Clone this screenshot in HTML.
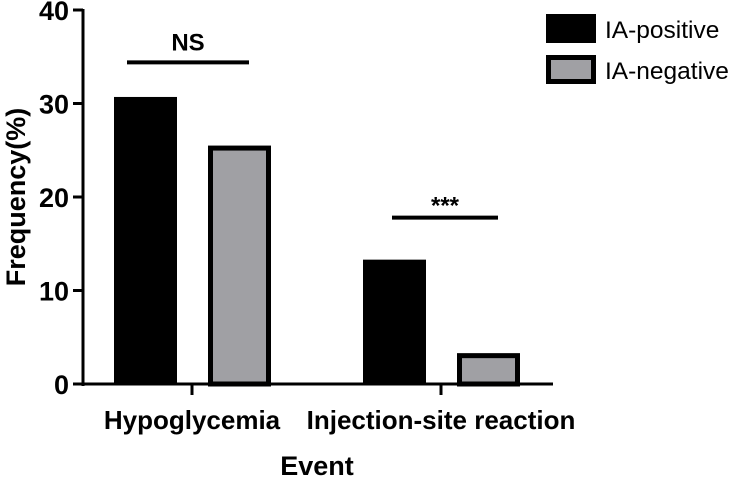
<!DOCTYPE html>
<html><head><meta charset="utf-8"><style>
body{margin:0;background:#fff}
svg{display:block;font-family:"Liberation Sans",Arial,sans-serif}
</style></head><body>
<svg id="c" width="738" height="477"></svg>
<script>
const categories=["Hypoglycemia","Injection-site reaction"];
const positiveValues=[30.7,13.3];
const negativeValues=[25.5,3.3];
const yTicks=[0,10,20,30,40];
const seriesNames=["IA-positive","IA-negative"];
const sigLabels=["NS","***"];
const sigLevels=[34.4,17.8];
const ns="http://www.w3.org/2000/svg";
const svg=document.getElementById('c');
function y(v){return 384-v*9.35;}
function cx(i){return 192+i*249;}
function mk(t,a,p){const e=document.createElementNS(ns,t);for(const k in a)e.setAttribute(k,a[k]);(p||svg).appendChild(e);return e;}
let e=mk('line',{x1:83,y1:y(40)-1,x2:83,y2:386,stroke:'#000','stroke-width':3});


e=mk('line',{x1:82,y1:384,x2:553,y2:384,stroke:'#000','stroke-width':3});


yTicks.forEach(t=>{
 let l=mk('line',{x1:73,y1:y(t),x2:83,y2:y(t),stroke:'#000','stroke-width':3});
 
 
 let tx=mk('text',{x:69,y:y(t)+10,'text-anchor':'end','font-size':27,'font-weight':'bold'});
 tx.textContent=t;
 
 
});
categories.forEach((c,i)=>{
 let l=mk('line',{x1:cx(i),y1:384,x2:cx(i),y2:395,stroke:'#000','stroke-width':3});
 
 
 let tx=mk('text',{x:cx(i),y:429,'text-anchor':'middle','font-size':26,'font-weight':'bold'});
 tx.textContent=c;
 
 
 let b=mk('rect',{x:cx(i)-78,y:y(positiveValues[i]),width:63,height:384-y(positiveValues[i]),fill:'#000'});
 
 
 let g=mk('rect',{x:cx(i)+18.5,y:y(negativeValues[i])+2.5,width:58,height:384-y(negativeValues[i])-2.5,fill:'#a0a0a4',stroke:'#000','stroke-width':5});
 
 
 let ly=y(sigLevels[i]);
 let x1=i==0?cx(i)-65:cx(i)-49, x2=cx(i)+57;
 let s=mk('line',{x1:x1,y1:ly,x2:x2,y2:ly,stroke:'#000','stroke-width':4});
 
 
 let st=mk('text',{x:(x1+x2)/2,y:ly-(i==0?12:4),'text-anchor':'middle','font-size':24,'font-weight':'bold'});
 st.textContent=sigLabels[i];
 
 
});
e=mk('text',{x:0,y:0,transform:'translate(25,197) rotate(-90)','text-anchor':'middle','font-size':27,'font-weight':'bold'});
e.textContent='Frequency(%)';


e=mk('text',{x:317,y:475,'text-anchor':'middle','font-size':27,'font-weight':'bold'});
e.textContent='Event';


seriesNames.forEach((n,i)=>{
 let r=i==0?mk('rect',{x:546,y:14+i*41,width:50,height:29,fill:'#000'}):mk('rect',{x:548.5,y:16.5+i*41,width:45,height:24,fill:'#a0a0a4',stroke:'#000','stroke-width':5});
 
 
 let t=mk('text',{x:605,y:38+i*41,'font-size':24.5});
 t.textContent=n;
 
 
});
</script>
</body></html>
